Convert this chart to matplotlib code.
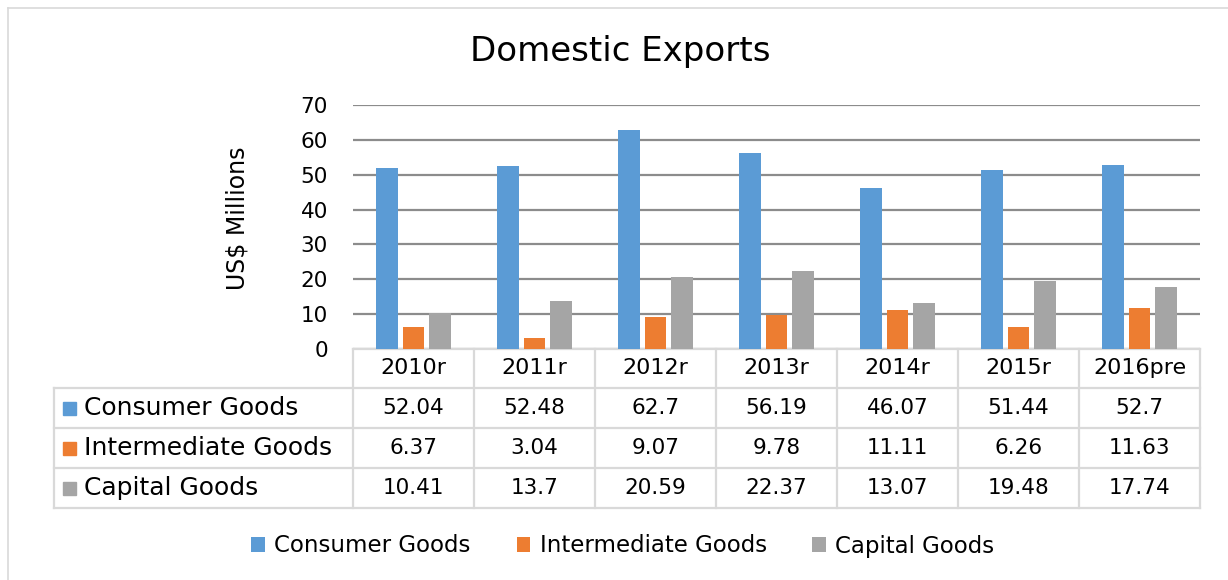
import matplotlib.pyplot as plt
import matplotlib.transforms as mtransforms
from matplotlib.lines import Line2D
from matplotlib.patches import Rectangle

plt.rcParams['font.family'] = ['DejaVu Sans']

years = ["2010r", "2011r", "2012r", "2013r", "2014r", "2015r", "2016pre"]
consumer = [52.04, 52.48, 62.7, 56.19, 46.07, 51.44, 52.7]
intermediate = [6.37, 3.04, 9.07, 9.78, 11.11, 6.26, 11.63]
capital = [10.41, 13.7, 20.59, 22.37, 13.07, 19.48, 17.74]

series_names = ["Consumer Goods", "Intermediate Goods", "Capital Goods"]
series_values = [consumer, intermediate, capital]
colors = ["#5B9BD5", "#ED7D31", "#A5A5A5"]
y_ticks = [0, 10, 20, 30, 40, 50, 60, 70]

W, H = 1228, 580
fig = plt.figure(figsize=(W / 100, H / 100), dpi=100)

# outer chart frame (only top and left edges show in the reference)
fig.add_artist(Line2D([8 / W, 8 / W], [0, 1 - 8 / H], color="#d9d9d9", lw=1.2))
fig.add_artist(Line2D([8 / W, 1], [1 - 8 / H, 1 - 8 / H], color="#d9d9d9", lw=1.2))

ax = fig.add_axes([353 / W, 1 - 349 / H, 847 / W, 244 / H])

x = list(range(len(years)))
width = 0.18
offsets = [-0.22, 0.0, 0.22]
for vals, off, c, name in zip(series_values, offsets, colors, series_names):
    ax.bar([i + off for i in x], vals, width=width, color=c, label=name, zorder=3)

ax.set_xlim(-0.5, len(years) - 0.5)
ax.set_ylim(0, 70)
ax.set_yticks(y_ticks)
ax.set_yticklabels([str(t) for t in y_ticks], fontsize=15.5)
ax.tick_params(axis="y", length=0, pad=18)
ax.set_xticks([])
for s in ax.spines.values():
    s.set_visible(False)
ax.grid(axis="y", color="#8c8c8c", lw=1.6, zorder=0)
ax.set_axisbelow(True)

ax.set_ylabel("US$ Millions", fontsize=17)
ax.yaxis.set_label_coords((249 - 353) / 847, 0.535)
fig.text(620 / W, 1 - 52 / H, "Domestic Exports", fontsize=24.5,
         ha="center", va="center")

# data table below the plot, x in data units, y in pixels from the top
tr = mtransforms.blended_transform_factory(ax.transData, fig.transFigure)
lc = "#d9d9d9"
row_edges = [349, 388, 428, 468, 508]
label_left = -0.5 - (353 - 54) / 121.0
right = len(years) - 0.5


def fy(py):
    return 1 - py / H


# horizontal lines
ax.add_line(Line2D([-0.5, right], [fy(349), fy(349)], transform=tr, color=lc, lw=1.6, clip_on=False))
for py in row_edges[1:]:
    ax.add_line(Line2D([label_left, right], [fy(py), fy(py)], transform=tr, color=lc, lw=1.6, clip_on=False))
# vertical lines
for i in range(len(years) + 1):
    xv = i - 0.5
    ax.add_line(Line2D([xv, xv], [fy(349), fy(508)], transform=tr, color=lc, lw=1.6, clip_on=False))
ax.add_line(Line2D([label_left, label_left], [fy(388), fy(508)], transform=tr, color=lc, lw=1.6, clip_on=False))

# header row
for i, yr in enumerate(years):
    ax.text(i, fy((349 + 388) / 2), yr, transform=tr, ha="center", va="center",
            fontsize=16, clip_on=False)

# data rows
for r, (name, vals, c) in enumerate(zip(series_names, series_values, colors)):
    yc = fy((row_edges[r + 1] + row_edges[r + 2]) / 2)
    fig.add_artist(Rectangle((63 / W, yc - 6.5 / H), 13 / W, 13 / H, color=c,
                             transform=fig.transFigure))
    fig.text(84 / W, yc, name, ha="left", va="center", fontsize=18)
    for i, v in enumerate(vals):
        ax.text(i, yc, str(v), transform=tr, ha="center", va="center",
                fontsize=15.5, clip_on=False)

fig.legend(loc="center", bbox_to_anchor=(623 / W, 1 - 546 / H), ncol=3,
           frameon=False, fontsize=16.5, handlelength=0.6, handleheight=0.6,
           handletextpad=0.4, columnspacing=2.0)

fig.savefig("out.png", dpi=100)
